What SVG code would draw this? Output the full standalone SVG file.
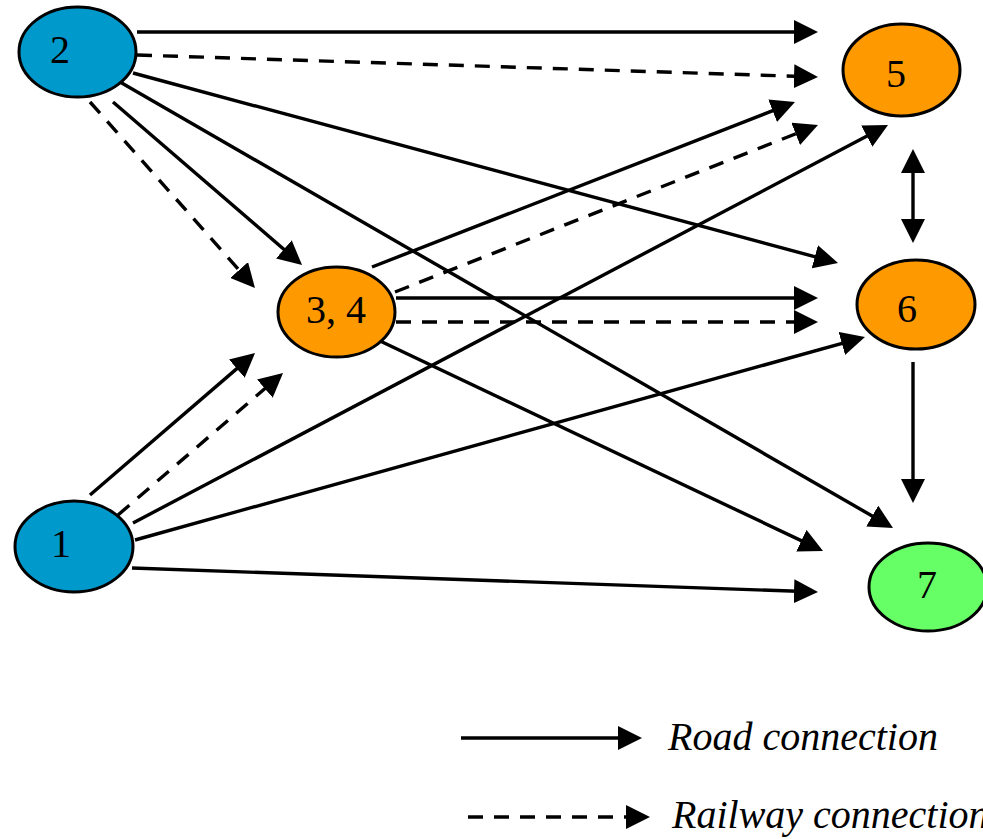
<svg xmlns="http://www.w3.org/2000/svg" width="983" height="839" viewBox="0 0 983 839">
  <style>
    .node { stroke: #000; stroke-width: 3; }
    .city { fill: #0099cc; }
    .hub { fill: #ff9900; }
    .dest { fill: #66ff66; }
    .lbl { font-family: "Liberation Serif", "Times New Roman", serif; font-size: 40px; fill: #000; text-anchor: middle; }
    .leg { font-family: "Liberation Serif", "Times New Roman", serif; font-size: 40px; font-style: italic; fill: #000; }
    .road { stroke: #000; stroke-width: 3.4; fill: none; marker-end: url(#head); }
    .rail { stroke: #000; stroke-width: 3.4; fill: none; stroke-dasharray: 15 11; marker-end: url(#head); }
  </style>
  <defs>
    <marker id="head" viewBox="0 0 24 24" refX="18" refY="12" markerWidth="24" markerHeight="24" markerUnits="userSpaceOnUse" orient="auto-start-reverse">
      <path d="M0,0 L24,12 L0,24 Z" fill="#000"/>
    </marker>
  </defs>
  <rect width="983" height="839" fill="#fff"/>

  <g id="connectors">
    <!-- from 2 -->
    <line class="road" x1="137" y1="32" x2="812" y2="32"/>
    <line class="rail" x1="137" y1="55" x2="812" y2="76.8"/>
    <line class="road" x1="133" y1="73" x2="832.2" y2="261.4"/>
    <line class="road" x1="120" y1="82" x2="887.8" y2="525"/>
    <line class="road" x1="113" y1="102" x2="297.5" y2="261.1"/>
    <line class="rail" x1="90" y1="102" x2="251" y2="283.5"/>
    <!-- from 1 -->
    <line class="road" x1="90" y1="495" x2="250.5" y2="356.9"/>
    <line class="rail" x1="118" y1="515" x2="278.5" y2="376.9"/>
    <line class="road" x1="133" y1="523" x2="882.7" y2="127.8"/>
    <line class="road" x1="135" y1="540" x2="859.2" y2="338.6"/>
    <line class="road" x1="132" y1="568" x2="812" y2="591.8"/>
    <!-- from 3, 4 -->
    <line class="road" x1="372" y1="267" x2="789.4" y2="104.2"/>
    <line class="rail" x1="395" y1="292" x2="812.4" y2="127.2"/>
    <line class="road" x1="396" y1="298" x2="812" y2="298"/>
    <line class="rail" x1="396" y1="322" x2="812" y2="322"/>
    <line class="road" x1="378" y1="340" x2="817.6" y2="548.4"/>
    <!-- between 5, 6 and 7 -->
    <line class="road" x1="913" y1="155" x2="913" y2="237" marker-start="url(#head)"/>
    <line class="road" x1="913" y1="362" x2="913" y2="497"/>
  </g>

  <g id="node-2">
    <ellipse class="node city" cx="77.5" cy="52" rx="58.5" ry="45"/>
    <text class="lbl" x="60" y="63">2</text>
  </g>
  <g id="node-1">
    <ellipse class="node city" cx="74" cy="546.5" rx="59" ry="45.5"/>
    <text class="lbl" x="61" y="557">1</text>
  </g>
  <g id="node-34">
    <ellipse class="node hub" cx="336.5" cy="312" rx="58.5" ry="45"/>
    <text class="lbl" x="336" y="323">3, 4</text>
  </g>
  <g id="node-5">
    <ellipse class="node hub" cx="901.5" cy="70" rx="58.5" ry="46"/>
    <text class="lbl" x="896" y="87">5</text>
  </g>
  <g id="node-6">
    <ellipse class="node hub" cx="916" cy="304.5" rx="59" ry="44.5"/>
    <text class="lbl" x="907" y="322">6</text>
  </g>
  <g id="node-7">
    <ellipse class="node dest" cx="928" cy="587" rx="59" ry="44"/>
    <text class="lbl" x="927" y="598">7</text>
  </g>

  <g id="legend">
    <line class="road" x1="461" y1="738" x2="636" y2="738"/>
    <text class="leg" x="668" y="750">Road connection</text>
    <line class="rail" x1="468" y1="817" x2="644" y2="817"/>
    <text class="leg" x="672" y="828">Railway connection</text>
  </g>
</svg>
